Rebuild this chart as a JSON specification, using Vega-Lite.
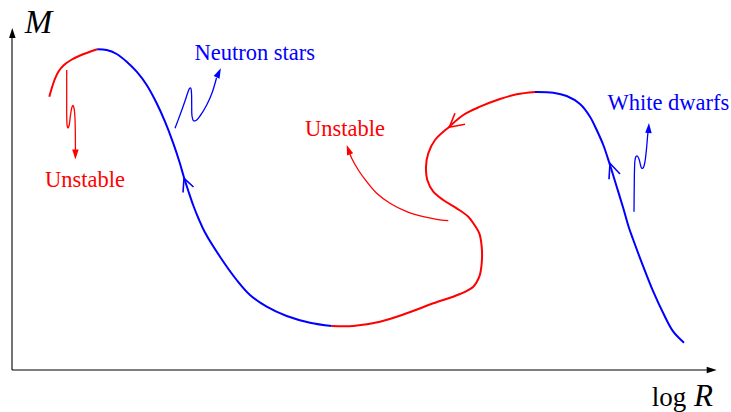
{
  "$schema": "https://vega.github.io/schema/vega-lite/v6.json",
  "width": 731,
  "height": 412,
  "autosize": {"type": "fit", "contains": "padding"},
  "padding": 0,
  "background": "white",
  "config": {"view": {"stroke": null}},
  "datasets": {
    "curve": [
      {"seg": "A", "kind": "unstable", "i": 0, "x": 37.3, "y": 273.3},
      {"seg": "A", "kind": "unstable", "i": 1, "x": 39.5, "y": 281},
      {"seg": "A", "kind": "unstable", "i": 2, "x": 42.5, "y": 290},
      {"seg": "A", "kind": "unstable", "i": 3, "x": 46.5, "y": 298.5},
      {"seg": "A", "kind": "unstable", "i": 4, "x": 52, "y": 305},
      {"seg": "A", "kind": "unstable", "i": 5, "x": 59, "y": 310},
      {"seg": "A", "kind": "unstable", "i": 6, "x": 67, "y": 314},
      {"seg": "A", "kind": "unstable", "i": 7, "x": 76, "y": 317.5},
      {"seg": "A", "kind": "unstable", "i": 8, "x": 85.3, "y": 320.7},

      {"seg": "B", "kind": "stable", "i": 0, "x": 85.3, "y": 320.7},
      {"seg": "B", "kind": "stable", "i": 1, "x": 94.7, "y": 320},
      {"seg": "B", "kind": "stable", "i": 2, "x": 104.7, "y": 316},
      {"seg": "B", "kind": "stable", "i": 3, "x": 114.7, "y": 308.3},
      {"seg": "B", "kind": "stable", "i": 4, "x": 124.7, "y": 298.3},
      {"seg": "B", "kind": "stable", "i": 5, "x": 134.7, "y": 285},
      {"seg": "B", "kind": "stable", "i": 6, "x": 144.7, "y": 266.7},
      {"seg": "B", "kind": "stable", "i": 7, "x": 153, "y": 248.3},
      {"seg": "B", "kind": "stable", "i": 8, "x": 161.3, "y": 226.7},
      {"seg": "B", "kind": "stable", "i": 9, "x": 167.5, "y": 208},
      {"seg": "B", "kind": "stable", "i": 10, "x": 172, "y": 192.5},
      {"seg": "B", "kind": "stable", "i": 11, "x": 176.5, "y": 178.5},
      {"seg": "B", "kind": "stable", "i": 12, "x": 181.3, "y": 164.5},
      {"seg": "B", "kind": "stable", "i": 13, "x": 186.5, "y": 151.5},
      {"seg": "B", "kind": "stable", "i": 14, "x": 193, "y": 137.5},
      {"seg": "B", "kind": "stable", "i": 15, "x": 208, "y": 113.3},
      {"seg": "B", "kind": "stable", "i": 16, "x": 224.7, "y": 90},
      {"seg": "B", "kind": "stable", "i": 17, "x": 238, "y": 75},
      {"seg": "B", "kind": "stable", "i": 18, "x": 254.7, "y": 63.3},
      {"seg": "B", "kind": "stable", "i": 19, "x": 274.7, "y": 54},
      {"seg": "B", "kind": "stable", "i": 20, "x": 298, "y": 47.3},
      {"seg": "B", "kind": "stable", "i": 21, "x": 319.7, "y": 44},

      {"seg": "C", "kind": "unstable", "i": 0, "x": 319.7, "y": 44},
      {"seg": "C", "kind": "unstable", "i": 1, "x": 341.3, "y": 44},
      {"seg": "C", "kind": "unstable", "i": 2, "x": 368, "y": 48.3},
      {"seg": "C", "kind": "unstable", "i": 3, "x": 394.7, "y": 56.7},
      {"seg": "C", "kind": "unstable", "i": 4, "x": 421.3, "y": 66.7},
      {"seg": "C", "kind": "unstable", "i": 5, "x": 448, "y": 76},
      {"seg": "C", "kind": "unstable", "i": 6, "x": 461.3, "y": 83.3},
      {"seg": "C", "kind": "unstable", "i": 7, "x": 467.3, "y": 93.3},
      {"seg": "C", "kind": "unstable", "i": 8, "x": 469.7, "y": 106.7},
      {"seg": "C", "kind": "unstable", "i": 9, "x": 469.7, "y": 123.3},
      {"seg": "C", "kind": "unstable", "i": 10, "x": 467.3, "y": 136.7},
      {"seg": "C", "kind": "unstable", "i": 11, "x": 462.5, "y": 145},
      {"seg": "C", "kind": "unstable", "i": 12, "x": 456.3, "y": 153.3},
      {"seg": "C", "kind": "unstable", "i": 13, "x": 444.7, "y": 161.7},
      {"seg": "C", "kind": "unstable", "i": 14, "x": 431.3, "y": 170},
      {"seg": "C", "kind": "unstable", "i": 15, "x": 421.3, "y": 178.3},
      {"seg": "C", "kind": "unstable", "i": 16, "x": 415.3, "y": 190},
      {"seg": "C", "kind": "unstable", "i": 17, "x": 414, "y": 203.3},
      {"seg": "C", "kind": "unstable", "i": 18, "x": 416.3, "y": 216.7},
      {"seg": "C", "kind": "unstable", "i": 19, "x": 423, "y": 230},
      {"seg": "C", "kind": "unstable", "i": 20, "x": 437.3, "y": 243.3},
      {"seg": "C", "kind": "unstable", "i": 21, "x": 451.3, "y": 255},
      {"seg": "C", "kind": "unstable", "i": 22, "x": 468, "y": 263.3},
      {"seg": "C", "kind": "unstable", "i": 23, "x": 488, "y": 271},
      {"seg": "C", "kind": "unstable", "i": 24, "x": 504.7, "y": 275.7},
      {"seg": "C", "kind": "unstable", "i": 25, "x": 523, "y": 278},

      {"seg": "D", "kind": "stable", "i": 0, "x": 523, "y": 278},
      {"seg": "D", "kind": "stable", "i": 1, "x": 541.3, "y": 277.3},
      {"seg": "D", "kind": "stable", "i": 2, "x": 554.7, "y": 274},
      {"seg": "D", "kind": "stable", "i": 3, "x": 568, "y": 266},
      {"seg": "D", "kind": "stable", "i": 4, "x": 578, "y": 253.3},
      {"seg": "D", "kind": "stable", "i": 5, "x": 584.7, "y": 240},
      {"seg": "D", "kind": "stable", "i": 6, "x": 591.3, "y": 225},
      {"seg": "D", "kind": "stable", "i": 7, "x": 598, "y": 205},
      {"seg": "D", "kind": "stable", "i": 8, "x": 604.7, "y": 183.3},
      {"seg": "D", "kind": "stable", "i": 9, "x": 611.3, "y": 161.7},
      {"seg": "D", "kind": "stable", "i": 10, "x": 616.7, "y": 143},
      {"seg": "D", "kind": "stable", "i": 11, "x": 621.3, "y": 130},
      {"seg": "D", "kind": "stable", "i": 12, "x": 631.3, "y": 103.3},
      {"seg": "D", "kind": "stable", "i": 13, "x": 641.3, "y": 78.3},
      {"seg": "D", "kind": "stable", "i": 14, "x": 651.3, "y": 56.7},
      {"seg": "D", "kind": "stable", "i": 15, "x": 661.3, "y": 38.3},
      {"seg": "D", "kind": "stable", "i": 16, "x": 672, "y": 27.3}
    ],
    "chevrons": [
      {"seg": "c1", "kind": "stable", "i": 0, "x": 171, "y": 177.5},
      {"seg": "c1", "kind": "stable", "i": 1, "x": 172, "y": 191.7},
      {"seg": "c1", "kind": "stable", "i": 2, "x": 181.5, "y": 183},
      {"seg": "c2", "kind": "unstable", "i": 0, "x": 443, "y": 256.7},
      {"seg": "c2", "kind": "unstable", "i": 1, "x": 437.3, "y": 242.7},
      {"seg": "c2", "kind": "unstable", "i": 2, "x": 453, "y": 245.7},
      {"seg": "c3", "kind": "stable", "i": 0, "x": 597, "y": 190.7},
      {"seg": "c3", "kind": "stable", "i": 1, "x": 598, "y": 206.7},
      {"seg": "c3", "kind": "stable", "i": 2, "x": 608, "y": 196}
    ],
    "wiggles": [
      {"seg": "w1", "kind": "unstable", "i": 0, "x": 54.7, "y": 300},
      {"seg": "w1", "kind": "unstable", "i": 1, "x": 54.7, "y": 270},
      {"seg": "w1", "kind": "unstable", "i": 2, "x": 54.8, "y": 250},
      {"seg": "w1", "kind": "unstable", "i": 3, "x": 55.2, "y": 244},
      {"seg": "w1", "kind": "unstable", "i": 4, "x": 56, "y": 242},
      {"seg": "w1", "kind": "unstable", "i": 5, "x": 57, "y": 244},
      {"seg": "w1", "kind": "unstable", "i": 6, "x": 58.5, "y": 255},
      {"seg": "w1", "kind": "unstable", "i": 7, "x": 60, "y": 263},
      {"seg": "w1", "kind": "unstable", "i": 8, "x": 61, "y": 264.5},
      {"seg": "w1", "kind": "unstable", "i": 9, "x": 62, "y": 262},
      {"seg": "w1", "kind": "unstable", "i": 10, "x": 62.8, "y": 255},
      {"seg": "w1", "kind": "unstable", "i": 11, "x": 63.2, "y": 245},
      {"seg": "w1", "kind": "unstable", "i": 12, "x": 63.4, "y": 230},
      {"seg": "w1", "kind": "unstable", "i": 13, "x": 63.4, "y": 220},

      {"seg": "w2", "kind": "stable", "i": 0, "x": 163, "y": 241.7},
      {"seg": "w2", "kind": "stable", "i": 1, "x": 168, "y": 255},
      {"seg": "w2", "kind": "stable", "i": 2, "x": 173, "y": 269},
      {"seg": "w2", "kind": "stable", "i": 3, "x": 176, "y": 278},
      {"seg": "w2", "kind": "stable", "i": 4, "x": 177.5, "y": 281.5},
      {"seg": "w2", "kind": "stable", "i": 5, "x": 178.7, "y": 282},
      {"seg": "w2", "kind": "stable", "i": 6, "x": 179.5, "y": 277},
      {"seg": "w2", "kind": "stable", "i": 7, "x": 179.7, "y": 265},
      {"seg": "w2", "kind": "stable", "i": 8, "x": 180, "y": 254},
      {"seg": "w2", "kind": "stable", "i": 9, "x": 181.5, "y": 249.3},
      {"seg": "w2", "kind": "stable", "i": 10, "x": 184, "y": 249.5},
      {"seg": "w2", "kind": "stable", "i": 11, "x": 188, "y": 254},
      {"seg": "w2", "kind": "stable", "i": 12, "x": 194.7, "y": 265},
      {"seg": "w2", "kind": "stable", "i": 13, "x": 200, "y": 277},
      {"seg": "w2", "kind": "stable", "i": 14, "x": 204.5, "y": 292},

      {"seg": "w3", "kind": "unstable", "i": 0, "x": 436.3, "y": 149.3},
      {"seg": "w3", "kind": "unstable", "i": 1, "x": 424.7, "y": 150.7},
      {"seg": "w3", "kind": "unstable", "i": 2, "x": 411.3, "y": 153.3},
      {"seg": "w3", "kind": "unstable", "i": 3, "x": 394.7, "y": 158.3},
      {"seg": "w3", "kind": "unstable", "i": 4, "x": 378, "y": 166.7},
      {"seg": "w3", "kind": "unstable", "i": 5, "x": 364.7, "y": 176.7},
      {"seg": "w3", "kind": "unstable", "i": 6, "x": 354.7, "y": 188.3},
      {"seg": "w3", "kind": "unstable", "i": 7, "x": 346.3, "y": 200},
      {"seg": "w3", "kind": "unstable", "i": 8, "x": 339.7, "y": 211.7},
      {"seg": "w3", "kind": "unstable", "i": 9, "x": 338, "y": 216},

      {"seg": "w4", "kind": "stable", "i": 0, "x": 622, "y": 158.3},
      {"seg": "w4", "kind": "stable", "i": 1, "x": 622.2, "y": 180},
      {"seg": "w4", "kind": "stable", "i": 2, "x": 622.5, "y": 200},
      {"seg": "w4", "kind": "stable", "i": 3, "x": 623, "y": 210},
      {"seg": "w4", "kind": "stable", "i": 4, "x": 624, "y": 213.5},
      {"seg": "w4", "kind": "stable", "i": 5, "x": 625.3, "y": 214},
      {"seg": "w4", "kind": "stable", "i": 6, "x": 627, "y": 211},
      {"seg": "w4", "kind": "stable", "i": 7, "x": 628.5, "y": 205},
      {"seg": "w4", "kind": "stable", "i": 8, "x": 629.7, "y": 201.7},
      {"seg": "w4", "kind": "stable", "i": 9, "x": 631, "y": 202},
      {"seg": "w4", "kind": "stable", "i": 10, "x": 632.3, "y": 205},
      {"seg": "w4", "kind": "stable", "i": 11, "x": 633.5, "y": 212},
      {"seg": "w4", "kind": "stable", "i": 12, "x": 634.7, "y": 223.3},
      {"seg": "w4", "kind": "stable", "i": 13, "x": 635.7, "y": 235},
      {"seg": "w4", "kind": "stable", "i": 14, "x": 636.3, "y": 240}
    ],
    "axes": [
      {"seg": "Y", "kind": "axis", "i": 0, "x": 0, "y": 0},
      {"seg": "Y", "kind": "axis", "i": 1, "x": 0, "y": 334},
      {"seg": "X", "kind": "axis", "i": 0, "x": 0, "y": 0},
      {"seg": "X", "kind": "axis", "i": 1, "x": 696, "y": 0}
    ],
    "heads": [
      {"kind": "unstable", "x": 63.4, "y": 215.5, "dir": 180},
      {"kind": "stable", "x": 206.7, "y": 297.2, "dir": 25},
      {"kind": "unstable", "x": 336.4, "y": 220.3, "dir": 340},
      {"kind": "stable", "x": 636.7, "y": 242, "dir": 3},
      {"kind": "axis", "x": 0.3, "y": 337, "dir": 0},
      {"kind": "axis", "x": 699.7, "y": 0, "dir": 90}
    ],
    "labels": [
      {"kind": "stable", "text": "Neutron stars", "x": 242.7, "y": 310},
      {"kind": "unstable", "text": "Unstable", "x": 73, "y": 182.7},
      {"kind": "unstable", "text": "Unstable", "x": 333, "y": 234},
      {"kind": "stable", "text": "White dwarfs", "x": 656.3, "y": 260}
    ]
  },
  "encoding": {
    "x": {"field": "x", "type": "quantitative", "axis": null, "scale": {"domain": [-12, 719], "nice": false, "zero": false}},
    "y": {"field": "y", "type": "quantitative", "axis": null, "scale": {"domain": [-42, 370], "nice": false, "zero": false}},
    "color": {
      "field": "kind",
      "type": "nominal",
      "legend": null,
      "scale": {"domain": ["stable", "unstable", "axis"], "range": ["#0000ff", "#ff0000", "#000000"]}
    }
  },
  "layer": [
    {
      "data": {"name": "axes"},
      "mark": {"type": "line", "strokeWidth": 1.1},
      "encoding": {"detail": {"field": "seg"}, "order": {"field": "i"}}
    },
    {
      "data": {"name": "curve"},
      "mark": {"type": "line", "strokeWidth": 2, "interpolate": "catmull-rom"},
      "encoding": {"detail": {"field": "seg"}, "order": {"field": "i"}}
    },
    {
      "data": {"name": "chevrons"},
      "mark": {"type": "line", "strokeWidth": 1.6},
      "encoding": {"detail": {"field": "seg"}, "order": {"field": "i"}}
    },
    {
      "data": {"name": "wiggles"},
      "mark": {"type": "line", "strokeWidth": 1.3, "interpolate": "catmull-rom"},
      "encoding": {"detail": {"field": "seg"}, "order": {"field": "i"}}
    },
    {
      "data": {"name": "heads"},
      "mark": {"type": "point", "shape": "M0,-1L-0.65,1L0.65,1Z", "filled": true, "opacity": 1, "size": 100, "strokeWidth": 0},
      "encoding": {"angle": {"field": "dir", "type": "quantitative", "scale": {"domain": [0, 360], "range": [0, 360]}}}
    },
    {
      "data": {"name": "labels"},
      "mark": {"type": "text", "font": "Liberation Serif", "fontSize": 22.5, "align": "center", "baseline": "alphabetic"},
      "encoding": {"text": {"field": "text"}}
    },
    {
      "data": {"values": [{"kind": "axis", "text": "M", "x": 26.5, "y": 337}]},
      "mark": {"type": "text", "font": "Liberation Serif", "fontStyle": "italic", "fontSize": 33, "align": "center", "baseline": "alphabetic"},
      "encoding": {"text": {"field": "text"}}
    },
    {
      "data": {"values": [{"kind": "axis", "text": "log", "x": 639.7, "y": -36}]},
      "mark": {"type": "text", "font": "Liberation Serif", "fontSize": 27, "align": "left", "baseline": "alphabetic"},
      "encoding": {"text": {"field": "text"}}
    },
    {
      "data": {"values": [{"kind": "axis", "text": "R", "x": 682, "y": -36}]},
      "mark": {"type": "text", "font": "Liberation Serif", "fontStyle": "italic", "fontSize": 31, "align": "left", "baseline": "alphabetic"},
      "encoding": {"text": {"field": "text"}}
    }
  ]
}
